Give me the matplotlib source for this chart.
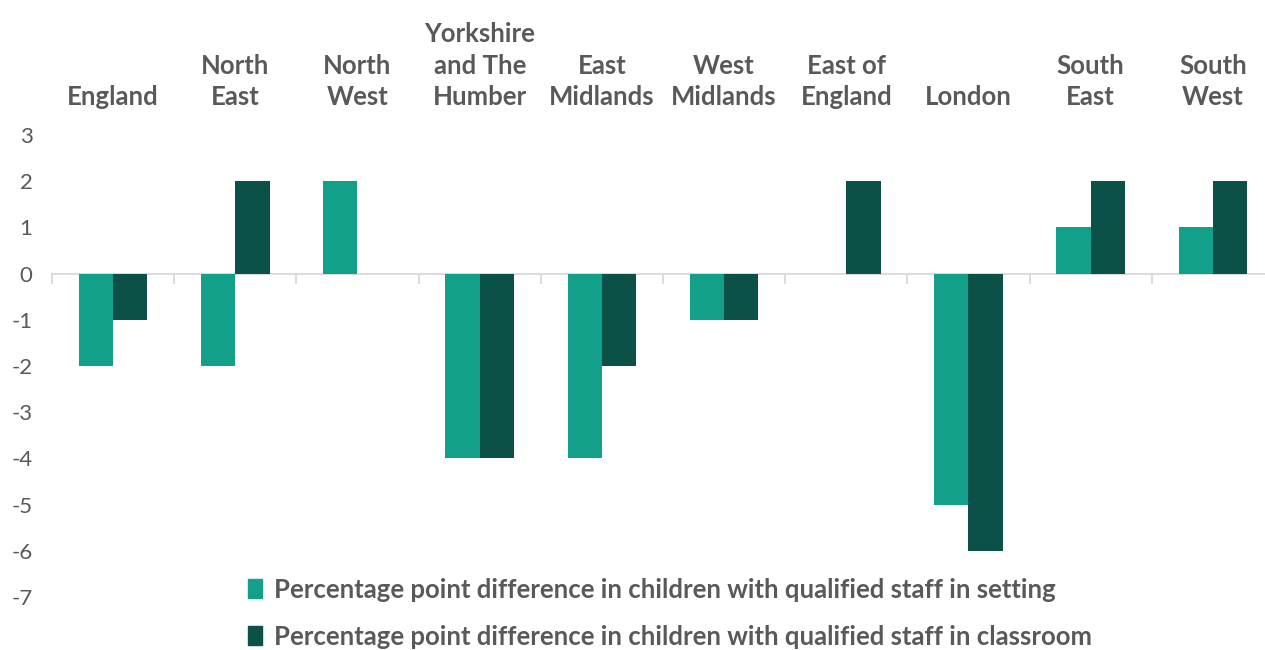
import matplotlib.pyplot as plt
import numpy as np
from matplotlib.patches import Patch

plt.rcParams['font.family'] = ['Lato', 'DejaVu Sans']
plt.rcParams['axes.unicode_minus'] = False

regions = ['England', 'North\nEast', 'North\nWest', 'Yorkshire\nand The\nHumber',
           'East\nMidlands', 'West\nMidlands', 'East of\nEngland', 'London',
           'South\nEast', 'South\nWest']
setting = [-2, -2, 2, -4, -4, -1, 0, -5, 1, 1]
classroom = [-1, 2, 0, -4, -2, -1, 2, -6, 2, 2]
series_names = ['Percentage point difference in children with qualified staff in setting',
                'Percentage point difference in children with qualified staff in classroom']

c_setting = '#13a08a'
c_class = '#0b5147'
grey = '#595959'

fig = plt.figure(figsize=(12.65, 6.5), dpi=100)
ax = fig.add_axes([0.0411, 0.0815, 0.966, 0.7108])

x = np.arange(len(regions))
w = 0.28
ax.bar(x - w / 2, setting, w, color=c_setting, zorder=2)
ax.bar(x + w / 2, classroom, w, color=c_class, zorder=2)

ax.set_xlim(-0.5, len(regions) - 0.5)
ax.set_ylim(-7, 3)
ax.set_yticks(range(-7, 4))
ax.tick_params(axis='y', length=0, pad=14, labelsize=16, labelcolor=grey)

for s in ['top', 'right', 'left']:
    ax.spines[s].set_visible(False)
ax.spines['bottom'].set_position(('data', 0))
ax.spines['bottom'].set_color('#d9d9d9')
ax.spines['bottom'].set_linewidth(1.3)
ax.spines['bottom'].set_zorder(1)

ax.set_xticks(x)
ax.set_xticklabels(regions, fontsize=18.5, fontweight='bold', color=grey, linespacing=1.38)
ax.tick_params(axis='x', which='major', bottom=False, top=False,
               labelbottom=False, labeltop=True, pad=15)
ax.set_xticks(np.arange(-0.5, len(regions)), minor=True)
ax.tick_params(axis='x', which='minor', bottom=True, direction='out',
               length=7, width=1.3, color='#d9d9d9')

handles = [Patch(color=c_setting), Patch(color=c_class)]
leg = fig.legend(handles, series_names, loc='upper left', bbox_to_anchor=(0.188, 0.127),
                 frameon=False, fontsize=18.5, handlelength=0.55, handleheight=0.75,
                 handletextpad=0.45, labelspacing=0.9, borderaxespad=0)
for t in leg.get_texts():
    t.set_color(grey)
    t.set_fontweight('bold')

fig.savefig('out.png', dpi=100)
